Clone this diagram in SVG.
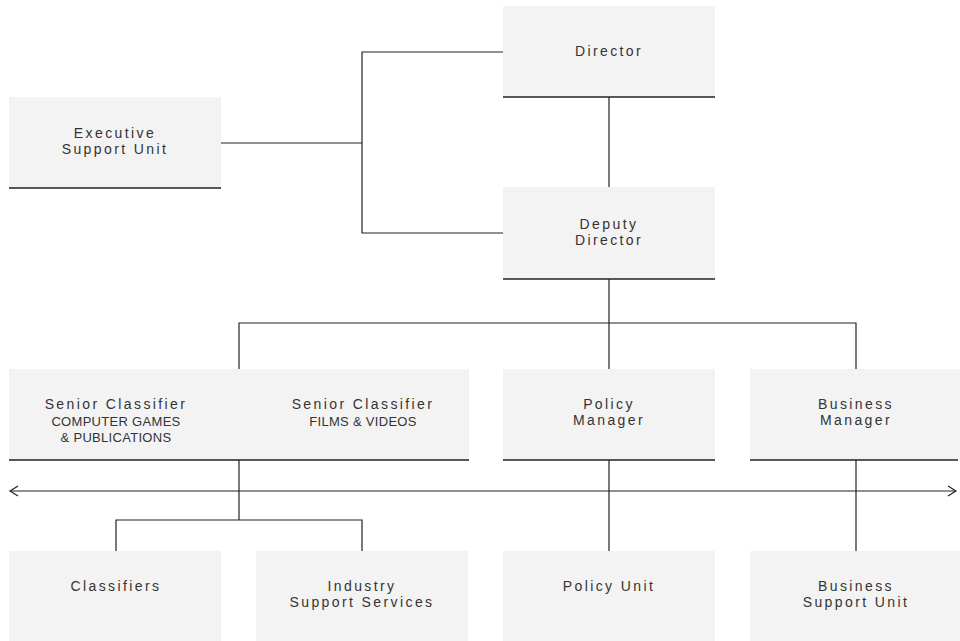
<svg xmlns="http://www.w3.org/2000/svg" width="960" height="641" viewBox="0 0 960 641">
<style>
.box{fill:#f3f3f3}
.base{stroke:#222;stroke-width:1.3;fill:none}
.t{font-family:"Liberation Sans",Arial,sans-serif;font-size:14px;letter-spacing:2.4px;fill:#333;text-anchor:middle}
.s{font-family:"Liberation Sans",Arial,sans-serif;font-size:13px;letter-spacing:0.3px;fill:#333;text-anchor:middle}
.c{stroke:#222;stroke-width:1.2;fill:none}
</style>
<defs>
<marker id="ah" markerWidth="12" markerHeight="12" refX="9" refY="6" orient="auto-start-reverse" markerUnits="userSpaceOnUse">
<path d="M1,1 L9,6 L1,11" fill="none" stroke="#222" stroke-width="1.2"/>
</marker>
</defs>
<g id="connectors">
<path class="c" d="M503,52 H362 V233 H503"/>
<path class="c" d="M221,143 H362"/>
<path class="c" d="M609,97 V187"/>
<path class="c" d="M609,279 V369"/>
<path class="c" d="M239,369 V323 H856 V369"/>
<path class="c" d="M239,460 V520"/>
<path class="c" d="M116,551 V520 H362 V551"/>
<path class="c" d="M609,460 V551"/>
<path class="c" d="M856,460 V551"/>
<path class="c" d="M10,491 H956" marker-start="url(#ah)" marker-end="url(#ah)"/>
</g>
<g id="director">
<rect class="box" x="503" y="6" width="212" height="91"/>
<line class="base" x1="503" y1="97" x2="715" y2="97"/>
<text class="t" x="609" y="56">Director</text>
</g>
<g id="executive-support-unit">
<rect class="box" x="9" y="97" width="212" height="91"/>
<line class="base" x1="9" y1="188" x2="221" y2="188"/>
<text class="t" x="115" y="138">Executive</text>
<text class="t" x="115" y="154">Support Unit</text>
</g>
<g id="deputy-director">
<rect class="box" x="503" y="187" width="212" height="92"/>
<line class="base" x1="503" y1="279" x2="715" y2="279"/>
<text class="t" x="609" y="229">Deputy</text>
<text class="t" x="609" y="245">Director</text>
</g>
<g id="senior-classifiers">
<rect class="box" x="9" y="369" width="460" height="91"/>
<line class="base" x1="9" y1="460" x2="469" y2="460"/>
<text class="t" x="116" y="409">Senior Classifier</text>
<text class="s" x="116" y="426">COMPUTER GAMES</text>
<text class="s" x="116" y="442">&amp; PUBLICATIONS</text>
<text class="t" x="363" y="409">Senior Classifier</text>
<text class="s" x="363" y="426">FILMS &amp; VIDEOS</text>
</g>
<g id="policy-manager">
<rect class="box" x="503" y="369" width="212" height="91"/>
<line class="base" x1="503" y1="460" x2="715" y2="460"/>
<text class="t" x="609" y="409">Policy</text>
<text class="t" x="609" y="425">Manager</text>
</g>
<g id="business-manager">
<rect class="box" x="750" y="369" width="210" height="91"/>
<line class="base" x1="750" y1="460" x2="958" y2="460"/>
<text class="t" x="856" y="409">Business</text>
<text class="t" x="856" y="425">Manager</text>
</g>
<g id="classifiers">
<rect class="box" x="9" y="551" width="212" height="90"/>
<text class="t" x="116" y="591">Classifiers</text>
</g>
<g id="industry-support-services">
<rect class="box" x="256" y="551" width="212" height="90"/>
<text class="t" x="362" y="591">Industry</text>
<text class="t" x="362" y="607">Support Services</text>
</g>
<g id="policy-unit">
<rect class="box" x="503" y="551" width="212" height="90"/>
<text class="t" x="609" y="591">Policy Unit</text>
</g>
<g id="business-support-unit">
<rect class="box" x="750" y="551" width="210" height="90"/>
<text class="t" x="856" y="591">Business</text>
<text class="t" x="856" y="607">Support Unit</text>
</g>
</svg>
